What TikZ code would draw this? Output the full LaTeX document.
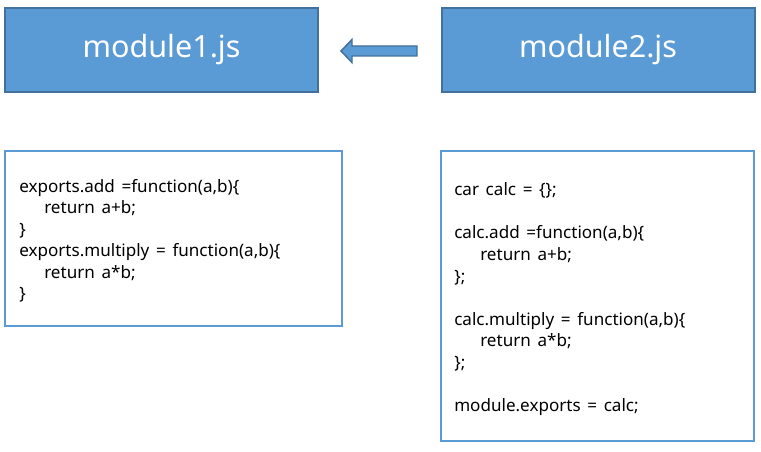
\documentclass[tikz,border=0pt]{standalone}
\usepackage{fontspec}
\setmainfont{Noto Sans}
\newfontfamily\codefont[WordSpace=1.5]{Noto Sans}
\definecolor{fillblue}{HTML}{5B9BD5}
\definecolor{edgeblue}{HTML}{41719C}
\begin{document}
\begin{tikzpicture}[x=0.75pt,y=-0.75pt,
  titlebox/.style={draw=edgeblue,fill=fillblue,line width=1.5pt,minimum width=234.75pt,minimum height=63pt,inner sep=0pt,text=white,font=\fontsize{22.9pt}{27pt}\selectfont},
  codebox/.style={draw=fillblue,line width=1.5pt,inner sep=0pt},
  codeline/.style={anchor=base west,inner sep=0pt,font=\codefont\fontsize{12.8pt}{15pt}\selectfont}]
\useasboundingbox (0,0) rectangle (761,452);
\node[titlebox] (m1) at (161.5,50) {module1.js};
\node[titlebox] (m2) at (598,50) {module2.js};
\draw[draw=edgeblue,fill=fillblue,line width=1.1pt,line join=miter]
  (341,51) -- (352,39.5) -- (352,46) -- (417,46) -- (417,56) -- (352,56) -- (352,62.5) -- cycle;
\node[codebox,minimum width=252.75pt,minimum height=131.25pt] (c1) at (173.5,238.5) {};
\node[codebox,minimum width=234.75pt,minimum height=217.5pt] (c2) at (597.5,296) {};
\foreach \k/\dx/\t in {0/0/{exports.add =function(a,b)\{},1/25/{return a+b;},2/0/{\}},3/0/{exports.multiply = function(a,b)\{},4/25/{return a*b;},5/0/{\}}}
  \node[codeline] (a\k) at (19+\dx,192.3+21.5*\k) {\t};
\foreach \k/\dx/\t in {0/0/{car calc = \{\};},2/0/{calc.add =function(a,b)\{},3/26/{return a+b;},4/0/{\};},6/0/{calc.multiply = function(a,b)\{},7/26/{return a*b;},8/0/{\};},10/0/{module.exports = calc;}}
  \node[codeline] (b\k) at (454+\dx,195.7+21.6*\k) {\t};
\end{tikzpicture}
\end{document}
